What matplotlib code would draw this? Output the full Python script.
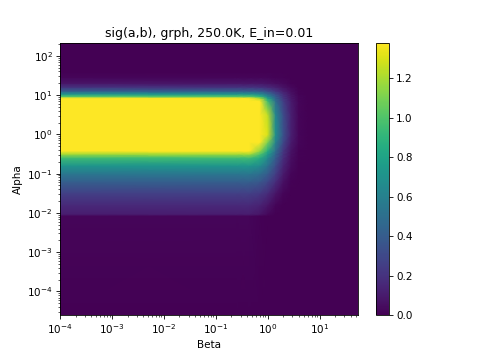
import numpy as np
import matplotlib
matplotlib.use("Agg")
import matplotlib.pyplot as plt

# grid nodes (log10 of beta and alpha)
beta_exp = [-4.0, -0.6, -0.35, -0.15, 0.0, 0.15, 0.3, 0.45, 0.6, 0.8, 1.74]
alpha_exp = [-4.6, -2.08, -2.03, -1.8, -1.5, -1.2, -1.0, -0.8, -0.6, -0.5, -0.42,
             -0.2, 0.0, 0.5, 0.85, 0.92, 0.97, 1.03, 1.1, 1.2, 1.3, 1.45, 1.6, 2.33]

# sig(a,b) values, one row per alpha node, one column per beta node
sig = [
    [0, 0, 0, 0, 0, 0, 0, 0, 0, 0, 0],
    [0.02, 0.02, 0.02, 0.01, 0, 0, 0, 0, 0, 0, 0],
    [0.11, 0.11, 0.11, 0.08, 0.03, 0, 0, 0, 0, 0, 0],
    [0.16, 0.16, 0.16, 0.13, 0.08, 0.02, 0, 0, 0, 0, 0],
    [0.26, 0.26, 0.26, 0.23, 0.17, 0.08, 0.02, 0, 0, 0, 0],
    [0.42, 0.42, 0.42, 0.38, 0.30, 0.18, 0.06, 0.01, 0, 0, 0],
    [0.55, 0.55, 0.55, 0.50, 0.40, 0.25, 0.10, 0.02, 0, 0, 0],
    [0.72, 0.72, 0.72, 0.66, 0.52, 0.32, 0.14, 0.04, 0, 0, 0],
    [0.95, 0.95, 0.95, 0.85, 0.65, 0.40, 0.18, 0.05, 0.01, 0, 0],
    [1.20, 1.20, 1.20, 1.00, 0.75, 0.45, 0.20, 0.06, 0.01, 0, 0],
    [1.38, 1.38, 1.38, 1.15, 0.85, 0.50, 0.22, 0.07, 0.01, 0, 0],
    [1.38, 1.38, 1.38, 1.38, 1.10, 0.62, 0.30, 0.10, 0.02, 0, 0],
    [1.38, 1.38, 1.38, 1.38, 1.30, 0.70, 0.35, 0.12, 0.02, 0, 0],
    [1.38, 1.38, 1.38, 1.38, 1.25, 0.65, 0.32, 0.12, 0.02, 0, 0],
    [1.38, 1.38, 1.38, 1.38, 0.95, 0.50, 0.25, 0.10, 0.02, 0, 0],
    [1.38, 1.38, 1.38, 1.20, 0.80, 0.45, 0.22, 0.09, 0.02, 0, 0],
    [1.00, 1.00, 1.00, 0.90, 0.65, 0.40, 0.20, 0.08, 0.02, 0, 0],
    [0.70, 0.70, 0.70, 0.65, 0.50, 0.32, 0.17, 0.07, 0.01, 0, 0],
    [0.42, 0.42, 0.42, 0.40, 0.32, 0.22, 0.12, 0.05, 0.01, 0, 0],
    [0.20, 0.20, 0.20, 0.19, 0.16, 0.12, 0.07, 0.03, 0, 0, 0],
    [0.08, 0.08, 0.08, 0.08, 0.07, 0.05, 0.03, 0.01, 0, 0, 0],
    [0.02, 0.02, 0.02, 0.02, 0.02, 0.01, 0.01, 0, 0, 0, 0],
    [0, 0, 0, 0, 0, 0, 0, 0, 0, 0, 0],
    [0, 0, 0, 0, 0, 0, 0, 0, 0, 0, 0],
]

beta = 10.0 ** np.array(beta_exp)
alpha = 10.0 ** np.array(alpha_exp)
B, A = np.meshgrid(beta, alpha)
Z = np.array(sig)

fig = plt.figure(figsize=(6.4, 4.8), dpi=75)
ax = fig.add_axes([0.125, 0.125, 0.621, 0.756])
cax = fig.add_axes([0.783, 0.125, 0.027, 0.756])

mesh = ax.pcolormesh(B, A, Z, shading="gouraud", cmap="viridis", vmin=0, vmax=1.38)
ax.set_xscale("log")
ax.set_yscale("log")
ax.set_xlim(beta[0], beta[-1])
ax.set_ylim(alpha[0], alpha[-1])
ax.set_xlabel("Beta")
ax.set_ylabel("Alpha")
ax.set_title("sig(a,b), grph, 250.0K, E_in=0.01")

fig.colorbar(mesh, cax=cax)

fig.savefig("out.png", dpi=75)
